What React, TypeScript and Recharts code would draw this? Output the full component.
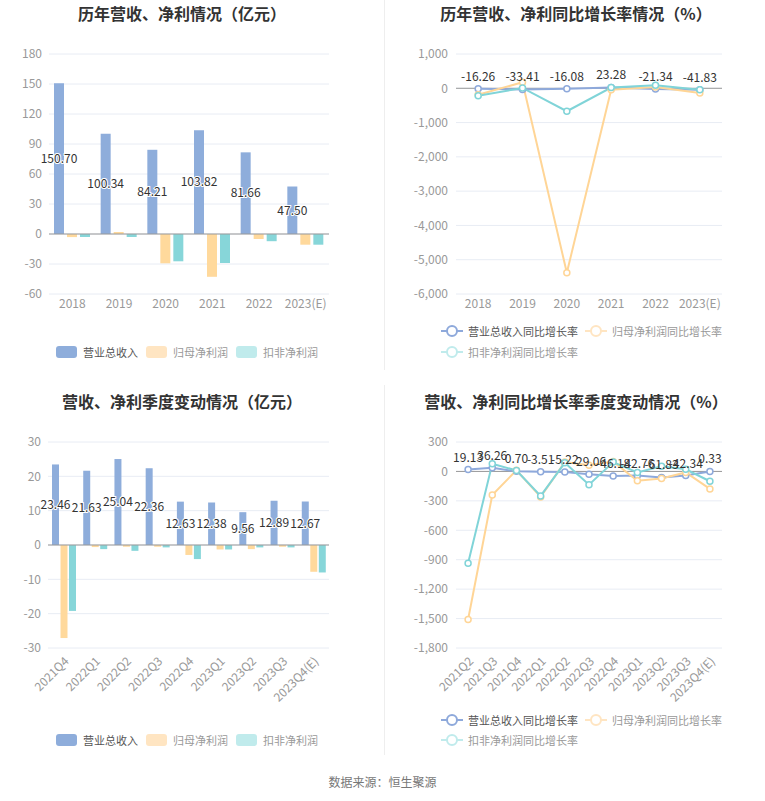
import React from "react";
import {
  ComposedChart,
  Bar,
  Line,
  XAxis,
  YAxis,
  CartesianGrid,
  ReferenceLine,
  LabelList,
} from "recharts";

const years = ["2018", "2019", "2020", "2021", "2022", "2023(E)"];
const revenue = [150.7, 100.34, 84.21, 103.82, 81.66, 47.5];
const netProfit = [-3.1, 2.0, -29.3, -42.8, -4.9, -10.7];
const deductedProfit = [-3.0, -3.0, -27.3, -29.0, -7.2, -10.7];

const revenueGrowth = [-16.26, -33.41, -16.08, 23.28, -21.34, -41.83];
const netProfitGrowth = [-190, 175, -5380, -40, 40, -135];
const deductedGrowth = [-220, 10, -670, 20, 88, -40];

const quarters = ["2021Q4", "2022Q1", "2022Q2", "2022Q3", "2022Q4", "2023Q1", "2023Q2", "2023Q3", "2023Q4(E)"];
const qRevenue = [23.46, 21.63, 25.04, 22.36, 12.63, 12.38, 9.56, 12.89, 12.67];
const qNetProfit = [-27.1, -0.6, -0.5, -0.5, -2.9, -1.3, -1.2, -0.5, -7.8];
const qDeducted = [-19.2, -1.2, -1.7, -0.7, -4.1, -1.3, -0.7, -0.7, -8.0];

const growthQuarters = ["2021Q2", "2021Q3", "2021Q4", "2022Q1", "2022Q2", "2022Q3", "2022Q4", "2023Q1", "2023Q2", "2023Q3", "2023Q4(E)"];
const qRevenueGrowth = [19.13, 36.26, 0.7, -3.51, -5.22, -29.06, -46.18, -42.76, -61.83, -42.34, 0.33];
const qNetProfitGrowth = [-1510, -240, 12, -260, 95, 62, 100, -95, -72, -10, -178];
const qDeductedGrowth = [-935, 78, 10, -250, 88, -135, 95, -10, 52, 22, -100];

const yearTicks = [-60, -30, 0, 30, 60, 90, 120, 150, 180];
const yearGrowthTicks = [-6000, -5000, -4000, -3000, -2000, -1000, 0, 1000];
const quarterTicks = [-30, -20, -10, 0, 10, 20, 30];
const quarterGrowthTicks = [-1800, -1500, -1200, -900, -600, -300, 0, 300];

const FONT = "'Noto Sans CJK SC', 'Noto Sans', sans-serif";
const BLUE = "#8EADDB";
const ORANGE = "#FFD99C";
const TEAL = "#87D6D9";
const GRID = "#E8ECF4";

const yearData = years.map((name, i) => ({
  name,
  revenue: revenue[i],
  net: netProfit[i],
  deducted: deductedProfit[i],
}));
const yearGrowthData = years.map((name, i) => ({
  name,
  revenue: revenueGrowth[i],
  net: netProfitGrowth[i],
  deducted: deductedGrowth[i],
}));
const quarterData = quarters.map((name, i) => ({
  name,
  revenue: qRevenue[i],
  net: qNetProfit[i],
  deducted: qDeducted[i],
}));
const quarterGrowthData = growthQuarters.map((name, i) => ({
  name,
  revenue: qRevenueGrowth[i],
  net: qNetProfitGrowth[i],
  deducted: qDeductedGrowth[i],
}));

const fmtComma = (v: number) => v.toLocaleString("en-US");
const fmt2 = (v: any) => Number(v).toFixed(2);

const tickStyle = { fill: "#999", fontSize: 12, fontFamily: FONT };
const labelStyle = { fill: "#333", fontSize: 12, fontFamily: FONT };

const Title = ({ text, cx, cy }: { text: string; cx: number; cy: number }) => (
  <div
    style={{
      position: "absolute",
      left: cx - 190,
      width: 380,
      top: cy - 11,
      height: 22,
      lineHeight: "22px",
      textAlign: "center",
      fontSize: 16,
      fontWeight: "bold",
      color: "#333",
      fontFamily: FONT,
    }}
  >
    {text}
  </div>
);

const BarLegend = ({ top }: { top: number }) => {
  const items = [
    { x: 56, color: BLUE, text: "营业总收入", tc: "#555" },
    { x: 146, color: "#FFE5C2", text: "归母净利润", tc: "#999" },
    { x: 236, color: "#C0EBEC", text: "扣非净利润", tc: "#999" },
  ];
  return (
    <>
      {items.map((it) => (
        <div key={it.text} style={{ position: "absolute", left: it.x, top: top - 8, height: 16, display: "flex", alignItems: "center" }}>
          <div style={{ width: 21, height: 12, borderRadius: 3, background: it.color }} />
          <span style={{ marginLeft: 6, fontSize: 11, color: it.tc, fontFamily: FONT, whiteSpace: "nowrap" }}>{it.text}</span>
        </div>
      ))}
    </>
  );
};

const LineLegend = ({ left, top1, top2 }: { left: number; top1: number; top2: number }) => {
  const items = [
    { x: left, y: top1, color: "#8EA9DB", text: "营业总收入同比增长率", tc: "#555" },
    { x: left + 144, y: top1, color: "#FFE5C2", text: "归母净利润同比增长率", tc: "#999" },
    { x: left, y: top2, color: "#C0EBEC", text: "扣非净利润同比增长率", tc: "#999" },
  ];
  return (
    <>
      {items.map((it) => (
        <div key={it.text} style={{ position: "absolute", left: it.x, top: it.y - 8, height: 16, display: "flex", alignItems: "center" }}>
          <svg width={22} height={14}>
            <line x1={0} y1={7} x2={22} y2={7} stroke={it.color} strokeWidth={2} />
            <circle cx={11} cy={7} r={5} fill="#fff" stroke={it.color} strokeWidth={2} />
          </svg>
          <span style={{ marginLeft: 5, fontSize: 11, color: it.tc, fontFamily: FONT, whiteSpace: "nowrap" }}>{it.text}</span>
        </div>
      ))}
    </>
  );
};

const dotProps = (color: string) => ({ r: 3, fill: "#fff", stroke: color, strokeWidth: 1.5 });

const App = () => {
  return (
    <div style={{ position: "absolute", left: 0, top: 0, width: 765, height: 801, background: "#fff", overflow: "hidden" }}>
      <div style={{ position: "absolute", left: 384, top: 0, width: 1, height: 370, background: "#EEE" }} />
      <div style={{ position: "absolute", left: 384, top: 385, width: 1, height: 370, background: "#EEE" }} />

      {/* top left */}
      <Title text="历年营收、净利情况（亿元）" cx={182} cy={13} />
      <div style={{ position: "absolute", left: 0, top: 0 }}>
        <ComposedChart width={382} height={370} data={yearData} margin={{ top: 54, right: 53, left: 9, bottom: 46 }} barGap={3}>
          <CartesianGrid vertical={false} stroke={GRID} />
          <XAxis dataKey="name" axisLine={false} tickLine={false} tickSize={0} tickMargin={5} height={30} tick={tickStyle} interval={0} />
          <YAxis domain={[-60, 180]} ticks={yearTicks} axisLine={false} tickLine={false} tickSize={0} tickMargin={7} width={40} tick={tickStyle} />
          <ReferenceLine y={0} stroke="#999" />
          <Bar dataKey="revenue" fill={BLUE} barSize={10} isAnimationActive={false}>
            <LabelList dataKey="revenue" position="center" formatter={fmt2} style={{ ...labelStyle, stroke: "#fff", strokeWidth: 2, paintOrder: "stroke" }} />
          </Bar>
          <Bar dataKey="net" fill={ORANGE} barSize={10} isAnimationActive={false} />
          <Bar dataKey="deducted" fill={TEAL} barSize={10} isAnimationActive={false} />
        </ComposedChart>
      </div>
      <BarLegend top={352} />

      {/* top right */}
      <Title text="历年营收、净利同比增长率情况（%）" cx={576} cy={13} />
      <div style={{ position: "absolute", left: 383, top: 0 }}>
        <ComposedChart width={382} height={370} data={yearGrowthData} margin={{ top: 54, right: 43, left: 13, bottom: 46 }}>
          <CartesianGrid vertical={false} stroke={GRID} />
          <XAxis dataKey="name" scale="band" axisLine={false} tickLine={false} tickSize={0} tickMargin={5} height={30} tick={tickStyle} interval={0} />
          <YAxis domain={[-6000, 1000]} ticks={yearGrowthTicks} tickFormatter={fmtComma} axisLine={false} tickLine={false} tickSize={0} tickMargin={8} width={60} tick={tickStyle} />
          <ReferenceLine y={0} stroke="#999" />
          <Line dataKey="revenue" stroke="#8EA9DB" strokeWidth={2} dot={dotProps("#8EA9DB")} isAnimationActive={false}>
            <LabelList dataKey="revenue" position="top" offset={8} formatter={fmt2} style={labelStyle} />
          </Line>
          <Line dataKey="net" stroke="#FFD596" strokeWidth={2} dot={dotProps("#FFD596")} isAnimationActive={false} />
          <Line dataKey="deducted" stroke="#80D4D8" strokeWidth={2} dot={dotProps("#80D4D8")} isAnimationActive={false} />
        </ComposedChart>
      </div>
      <LineLegend left={441} top1={331} top2={352} />

      {/* bottom left */}
      <Title text="营收、净利季度变动情况（亿元）" cx={182} cy={401} />
      <div style={{ position: "absolute", left: 0, top: 378 }}>
        <ComposedChart width={382} height={390} data={quarterData} margin={{ top: 64, right: 53, left: 8, bottom: 60 }} barGap={1.5}>
          <CartesianGrid vertical={false} stroke={GRID} />
          <XAxis dataKey="name" axisLine={false} tickLine={false} tickSize={0} tickMargin={8} height={60} tick={tickStyle} interval={0} angle={-45} textAnchor="end" />
          <YAxis domain={[-30, 30]} ticks={quarterTicks} axisLine={false} tickLine={false} tickSize={0} tickMargin={7} width={40} tick={tickStyle} />
          <ReferenceLine y={0} stroke="#999" />
          <Bar dataKey="revenue" fill={BLUE} barSize={7} isAnimationActive={false}>
            <LabelList dataKey="revenue" position="center" formatter={fmt2} style={{ ...labelStyle, stroke: "#fff", strokeWidth: 2, paintOrder: "stroke" }} />
          </Bar>
          <Bar dataKey="net" fill={ORANGE} barSize={7} isAnimationActive={false} />
          <Bar dataKey="deducted" fill={TEAL} barSize={7} isAnimationActive={false} />
        </ComposedChart>
      </div>
      <BarLegend top={740} />

      {/* bottom right */}
      <Title text="营收、净利同比增长率季度变动情况（%）" cx={576} cy={401} />
      <div style={{ position: "absolute", left: 383, top: 378 }}>
        <ComposedChart width={382} height={390} data={quarterGrowthData} margin={{ top: 64, right: 43, left: 13, bottom: 60 }}>
          <CartesianGrid vertical={false} stroke={GRID} />
          <XAxis dataKey="name" scale="band" axisLine={false} tickLine={false} tickSize={0} tickMargin={8} height={60} tick={tickStyle} interval={0} angle={-45} textAnchor="end" />
          <YAxis domain={[-1800, 300]} ticks={quarterGrowthTicks} tickFormatter={fmtComma} axisLine={false} tickLine={false} tickSize={0} tickMargin={8} width={60} tick={tickStyle} />
          <ReferenceLine y={0} stroke="#999" />
          <Line dataKey="revenue" stroke="#8EA9DB" strokeWidth={2} dot={dotProps("#8EA9DB")} isAnimationActive={false}>
            <LabelList dataKey="revenue" position="top" offset={8} formatter={fmt2} style={labelStyle} />
          </Line>
          <Line dataKey="net" stroke="#FFD596" strokeWidth={2} dot={dotProps("#FFD596")} isAnimationActive={false} />
          <Line dataKey="deducted" stroke="#80D4D8" strokeWidth={2} dot={dotProps("#80D4D8")} isAnimationActive={false} />
        </ComposedChart>
      </div>
      <LineLegend left={441} top1={720} top2={740} />

      <div style={{ position: "absolute", left: 0, width: 765, top: 774, height: 16, lineHeight: "16px", textAlign: "center", fontSize: 12, color: "#777", fontFamily: FONT }}>
        数据来源：恒生聚源
      </div>
    </div>
  );
};

export default App;
